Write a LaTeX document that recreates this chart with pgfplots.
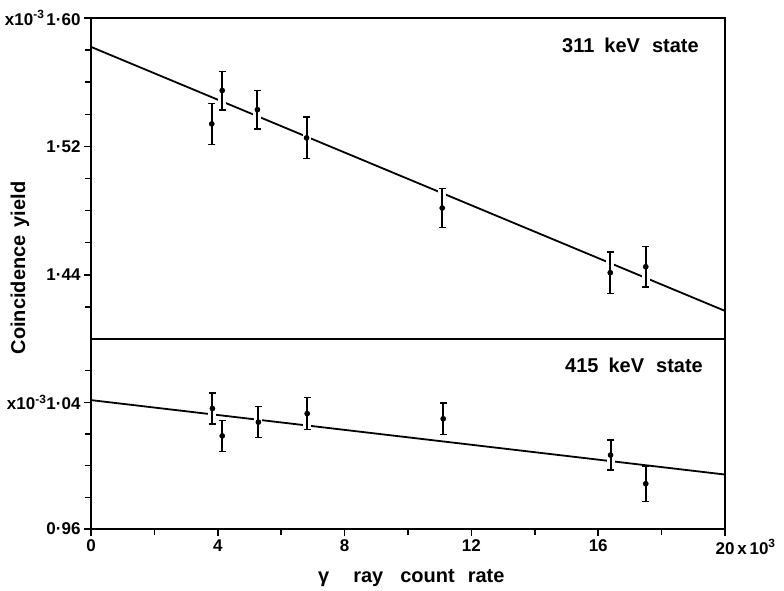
\documentclass[border=0pt]{standalone}
\usepackage{fontspec}
\setmainfont{Liberation Sans}
\usepackage{pgfplots}
\pgfplotsset{compat=1.18}
\begin{document}
\begin{tikzpicture}[x=1pt,y=1pt,font=\fontsize{20}{24}\selectfont\bfseries]
\useasboundingbox (0,0) rectangle (784,590);
\pgfplotsset{
  common/.style={
    scale only axis, width=634pt, xmin=0, xmax=20,
    axis line style={line width=2pt},
    tick style={line width=1.5pt, black},
    major tick length=7pt, minor tick length=6pt,
    tick align=outside,
    ytick pos=left,
    every tick label/.append style={font=\fontsize{17}{20}\selectfont\bfseries},
    /pgf/number format/assume math mode=true,
    clip=false,
  },
  fitline/.style={black, line width=1.8pt, no marks},
  halo/.style={draw=none, only marks, mark=none,
    error bars/y dir=both, error bars/y explicit,
    error bars/error bar style={white, line width=8pt},
    error bars/error mark=none},
  pts/.style={black, only marks, mark=*, mark size=2.6pt,
    error bars/y dir=both, error bars/y explicit,
    error bars/error bar style={black, line width=2pt},
    error bars/error mark=-,
    error bars/error mark options={black, rotate=90, mark size=3.5pt, line width=1.4pt}},
}
% top panel
\begin{axis}[common, at={(91pt,251pt)}, anchor=south west, height=321pt,
  ymin=1.40, ymax=1.60,
  ytick={1.44,1.52,1.60},
  yticklabels={1·44,1·52,{x10\textsuperscript{-3}\kern2pt1·60}},
  minor ytick={1.42,1.46,1.48,1.50,1.54,1.56,1.58},
  xtick=\empty]
\addplot[fitline] coordinates {(0,1.582) (20,1.4175)};
\addplot[halo] coordinates {
 (3.81,1.5340) +- (0,0.0129)
 (4.14,1.5548) +- (0,0.0120)
 (5.25,1.5429) +- (0,0.0120)
 (6.80,1.5253) +- (0,0.0129)
 (11.08,1.4816) +- (0,0.0120)
 (16.38,1.4413) +- (0,0.0129)
 (17.50,1.4450) +- (0,0.0127)
};
\addplot[pts] coordinates {
 (3.81,1.5340) +- (0,0.0129)
 (4.14,1.5548) +- (0,0.0120)
 (5.25,1.5429) +- (0,0.0120)
 (6.80,1.5253) +- (0,0.0129)
 (11.08,1.4816) +- (0,0.0120)
 (16.38,1.4413) +- (0,0.0129)
 (17.50,1.4450) +- (0,0.0127)
};
\end{axis}
% bottom panel
\begin{axis}[common, at={(91pt,61pt)}, anchor=south west, height=190pt,
  ymin=0.96, ymax=1.08,
  ytick={0.96,1.04},
  yticklabels={0·96,{x10\textsuperscript{-3}1·04}},
  minor ytick={0.98,1.00,1.02,1.06},
  xtick={0,4,8,12,16,20},
  xticklabels={0,4,8,12,16,{20\rlap{\,x\,10\textsuperscript{3}}}},
  minor xtick={2,6,10,14,18},
  xtick pos=bottom]
\addplot[fitline] coordinates {(0,1.0414) (20,0.9944)};
\addplot[halo] coordinates {
 (3.83,1.0361) +- (0,0.0098)
 (4.14,1.0188) +- (0,0.0099)
 (5.28,1.0275) +- (0,0.0098)
 (6.82,1.0329) +- (0,0.0100)
 (11.11,1.0296) +- (0,0.0099)
 (16.39,1.0067) +- (0,0.0095)
};
\addplot[pts] coordinates {
 (3.83,1.0361) +- (0,0.0098)
 (4.14,1.0188) +- (0,0.0099)
 (5.28,1.0275) +- (0,0.0098)
 (6.82,1.0329) +- (0,0.0100)
 (11.11,1.0296) +- (0,0.0099)
 (16.39,1.0067) +- (0,0.0095)
 (17.50,0.9886) +- (0,0.0113)
};
\end{axis}
\node[rotate=90] at (20,322) {Coincidence\hspace{8pt}yield};
\node[anchor=west,inner sep=0pt] at (318,12) {γ\hspace{24pt}ray\hspace{17pt}count\hspace{13pt}rate};
\node[anchor=west,inner sep=0pt] at (562,545) {311\hspace{10pt}keV\hspace{12pt}state};
\node[anchor=west,inner sep=0pt] at (565,225) {415\hspace{10pt}keV\hspace{12pt}state};
\end{tikzpicture}
\end{document}
